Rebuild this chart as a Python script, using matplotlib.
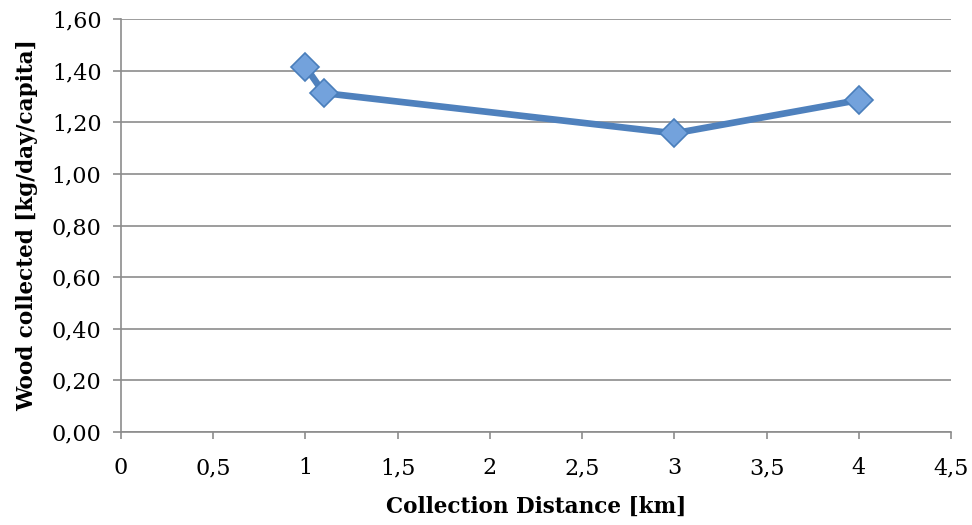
import matplotlib
matplotlib.use("Agg")
import matplotlib.pyplot as plt
from matplotlib.ticker import FuncFormatter, MultipleLocator

distance = [1.0, 1.1, 3.0, 4.0]
wood = [1.415, 1.313, 1.157, 1.286]

plt.rcParams['font.family'] = ['DejaVu Serif']

fig = plt.figure(figsize=(9.72, 5.25), dpi=100)
ax = fig.add_axes([121/972, 1-432/525, (951-121)/972, (432-19)/525])

ax.plot(distance, wood, color='#4F81BD', lw=4.8, solid_joinstyle='round',
        marker='D', markersize=14, markerfacecolor='#73A2DC',
        markeredgecolor='#4A7EBB', markeredgewidth=1.2, zorder=3)

ax.set_xlim(0, 4.5)
ax.set_ylim(0, 1.6)
ax.xaxis.set_major_locator(MultipleLocator(0.5))
ax.yaxis.set_major_locator(MultipleLocator(0.2))
ax.xaxis.set_major_formatter(FuncFormatter(lambda v, p: ('%g' % v).replace('.', ',')))
ax.yaxis.set_major_formatter(FuncFormatter(lambda v, p: ('%.2f' % v).replace('.', ',')))

ax.grid(axis='y', color='#8C8C8C', lw=1.2)
ax.set_axisbelow(True)
for s in ['top', 'right']:
    ax.spines[s].set_visible(False)
for s in ['left', 'bottom']:
    ax.spines[s].set_color('#8C8C8C')
    ax.spines[s].set_linewidth(1.2)
ax.tick_params(axis='both', colors='#8C8C8C', width=1.2, labelsize=16, labelcolor='black')
ax.tick_params(axis='y', length=6, pad=8)
ax.tick_params(axis='x', length=5, pad=13)

ax.set_xlabel('Collection Distance [km]', fontsize=15.5, fontweight='bold', labelpad=12)
ax.set_ylabel('Wood collected [kg/day/capita]', fontsize=15.5, fontweight='bold', labelpad=10)

fig.savefig('out.png', dpi=100)
